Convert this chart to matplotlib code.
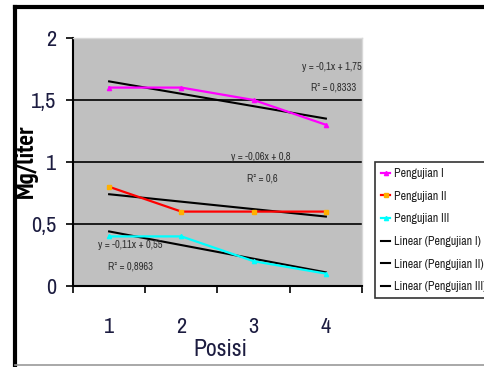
import numpy as np
import matplotlib
matplotlib.use('Agg')
import matplotlib.pyplot as plt
from matplotlib.lines import Line2D

plt.rcParams['font.family'] = ['Archivo Narrow', 'PT Sans Narrow', 'DejaVu Sans']

posisi = [1, 2, 3, 4]
pengujian_1 = [1.6, 1.6, 1.5, 1.3]
pengujian_2 = [0.8, 0.6, 0.6, 0.6]
pengujian_3 = [0.4, 0.4, 0.2, 0.1]
series_names = ['Pengujian I', 'Pengujian II', 'Pengujian III']
ytick_labels = ['0', '0,5', '1', '1,5', '2']

TXT = '#1c1c40'

fig = plt.figure(figsize=(4.85, 3.67), dpi=100)
ax = fig.add_axes([0.1505, 0.2207, 0.5959, 0.6758])
ax.set_facecolor('#c0c0c0')

x = np.array(posisi, dtype=float)
series = [pengujian_1, pengujian_2, pengujian_3]
line_colors = ['#ff00ff', '#ff0000', '#00ffff']
marker_colors = ['#ff00ff', '#ffb000', '#00ffff']
markers = ['^', 's', '^']

# horizontal grid at each major step
for yv in [0.5, 1.0, 1.5]:
    ax.axhline(yv, color='black', lw=1.2, zorder=1)

handles = []
for name, ys, lc, mc, mk in zip(series_names, series, line_colors, marker_colors, markers):
    h, = ax.plot(x, ys, color=lc, lw=1.6, marker=mk, ms=3, mfc=mc, mec=mc,
                 label=name, zorder=3)
    handles.append(h)

def fmt(v):
    return ('%g' % v).replace('.', ',')

# linear trendlines with equation and R^2
trend_handles = []
eq_pos = [((1.0, 0.883), (0.98, 0.802), 'right'),
          ((0.65, 0.52), (0.655, 0.435), 'center'),
          ((0.087, 0.165), (0.121, 0.077), 'left')]
for name, ys, (p1, p2, ha) in zip(series_names, series, eq_pos):
    ys = np.array(ys)
    slope, icpt = np.polyfit(x, ys, 1)
    fit = slope * x + icpt
    r2 = 1 - np.sum((ys - fit) ** 2) / np.sum((ys - ys.mean()) ** 2)
    h, = ax.plot(x, fit, color='black', lw=1.5, zorder=2,
                 label='Linear (%s)' % name)
    trend_handles.append(h)
    ax.text(p1[0], p1[1], 'y = %sx + %s' % (fmt(round(slope, 2)), fmt(round(icpt, 2))),
            transform=ax.transAxes, ha=ha, va='center', fontsize=7.6, color='#303030', zorder=4)
    ax.text(p2[0], p2[1], 'R\u00b2 = %s' % fmt(round(r2, 4)),
            transform=ax.transAxes, ha=ha, va='center', fontsize=7.6, color='#303030', zorder=4)

ax.set_xlim(0.5, 4.5)
ax.set_ylim(0, 2)
ax.set_xticks([0.5, 1.5, 2.5, 3.5, 4.5])
ax.set_xticklabels([])
ax.set_xticks(posisi, minor=True)
ax.set_xticklabels([str(p) for p in posisi], minor=True)
ax.tick_params(axis='x', which='major', direction='out', length=5, width=1.2)
ax.tick_params(axis='x', which='minor', length=0, pad=22, labelsize=16, labelcolor=TXT)
ax.set_yticks([0, 0.5, 1, 1.5, 2])
ax.set_yticklabels(ytick_labels)
ax.tick_params(axis='y', direction='out', length=5, width=1.2, pad=7, labelsize=16,
               labelcolor=TXT)

for s in ['top', 'right']:
    ax.spines[s].set_color('#d8d8d8')
    ax.spines[s].set_linewidth(1)
for s in ['left', 'bottom']:
    ax.spines[s].set_color('black')
    ax.spines[s].set_linewidth(1.5)

fig.text(0.454, 0.048, 'Posisi', ha='center', va='center', fontsize=17, color=TXT)
fig.text(0.055, 0.561, 'Mg/liter', rotation=90, ha='center', va='center',
         fontsize=18, fontweight='bold', color='black',
         family=['PT Sans Narrow', 'Archivo Narrow', 'DejaVu Sans'])

leg = fig.legend(handles + trend_handles,
                 series_names + ['Linear (%s)' % n for n in series_names],
                 loc='upper left', bbox_to_anchor=(0.773, 0.559), fontsize=8.6,
                 frameon=True, fancybox=False, edgecolor='black', handlelength=0.8,
                 handletextpad=0.3, labelspacing=0.98, borderpad=0.5, borderaxespad=0)
leg.get_frame().set_linewidth(1.2)
for t in leg.get_texts():
    t.set_color('#202020')

# outer frame around the chart object
fig.add_artist(Line2D([0.031, 0.031], [0.0, 0.982], color='black', lw=3))
fig.add_artist(Line2D([0.031, 1.0], [0.982, 0.982], color='black', lw=3))
fig.add_artist(Line2D([0.031, 1.0], [0.006, 0.006], color='#999999', lw=1.2))

fig.savefig('out.png', dpi=100)
